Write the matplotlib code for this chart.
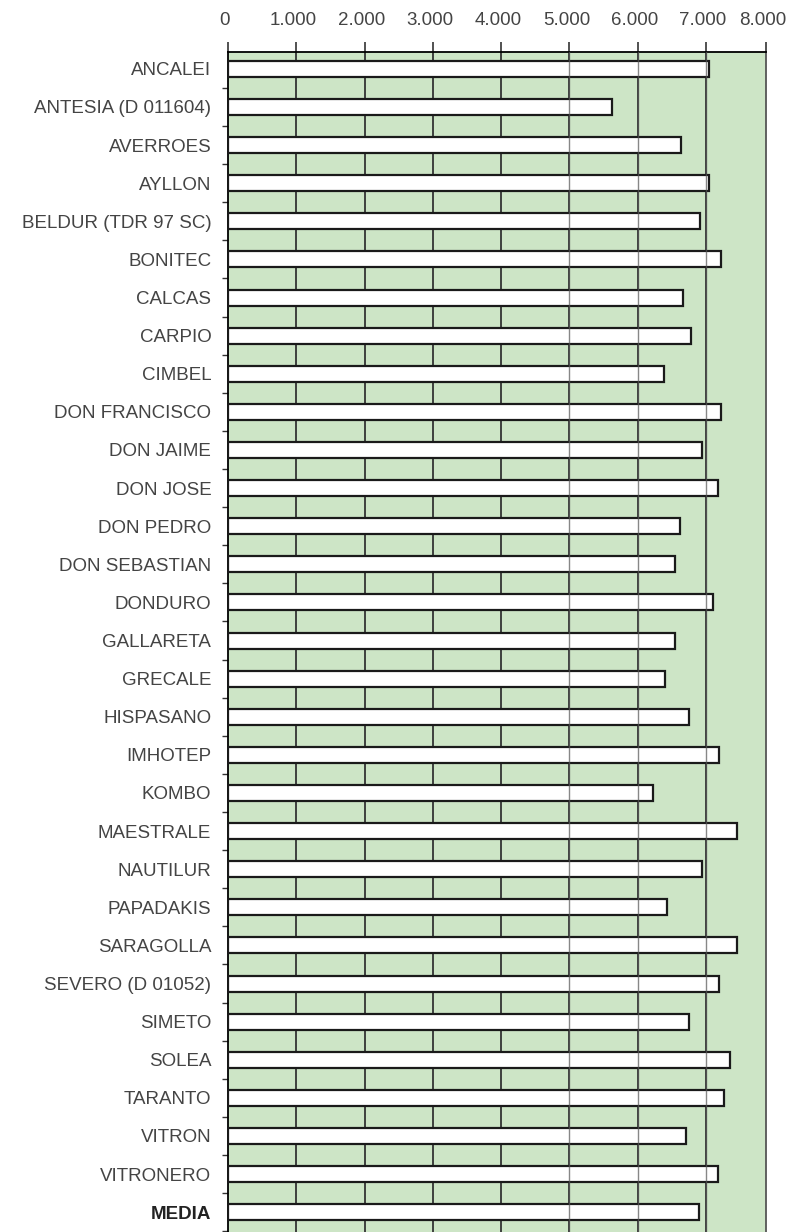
import matplotlib
matplotlib.use('Agg')
import matplotlib.pyplot as plt
from matplotlib.transforms import ScaledTranslation

varieties = ['ANCALEI', 'ANTESIA (D 011604)', 'AVERROES', 'AYLLON', 'BELDUR (TDR 97 SC)',
             'BONITEC', 'CALCAS', 'CARPIO', 'CIMBEL', 'DON FRANCISCO', 'DON JAIME',
             'DON JOSE', 'DON PEDRO', 'DON SEBASTIAN', 'DONDURO', 'GALLARETA', 'GRECALE',
             'HISPASANO', 'IMHOTEP', 'KOMBO', 'MAESTRALE', 'NAUTILUR', 'PAPADAKIS',
             'SARAGOLLA', 'SEVERO (D 01052)', 'SIMETO', 'SOLEA', 'TARANTO', 'VITRON',
             'VITRONERO', 'MEDIA']
yields = [7040, 5630, 6630, 7040, 6910, 7220, 6670, 6780, 6380, 7220, 6940,
          7180, 6620, 6550, 7100, 6550, 6400, 6750, 7190, 6230, 7450, 6940, 6430,
          7460, 7190, 6750, 7350, 7270, 6710, 7180, 6900]
xticks = [0, 1000, 2000, 3000, 4000, 5000, 6000, 7000]
xticklabels = ['0', '1.000', '2.000', '3.000', '4.000', '5.000', '6.000', '7.000', '8.000']
# the printed scale squeezes the last interval: the frame ends at ~7.880
x_end = 7880

plt.rcParams['font.family'] = ['Liberation Sans', 'DejaVu Sans']

fig = plt.figure(figsize=(7.95, 12.32), dpi=100)
ax = fig.add_axes([228 / 795, 0, 538 / 795, 1 - 51.7 / 1232])
ax.set_facecolor('#cde5c6')

n = len(varieties)
ypos = list(range(n))
ax.barh(ypos, yields, height=0.42, color='white', edgecolor='#1a1a1a',
        linewidth=1.6, zorder=3)

# grid lines: the low ones sit behind the bars, the high ones cross them
for v in xticks[1:]:
    ax.axvline(v, color='#333333', linewidth=1.3, zorder=2)
    if v >= 5000:
        ax.axvline(v, color='#555555', linewidth=1.0, alpha=0.7, zorder=4)

ax.set_xlim(0, x_end)
ax.set_ylim(n - 1 + 0.52, -0.45)
ax.xaxis.tick_top()
ax.set_xticks(xticks + [x_end])
ax.set_xticklabels(xticklabels, fontsize=13.5, color='#444444')
ax.tick_params(axis='x', direction='out', length=7, width=1.2, pad=9, color='#333333')
shift = ScaledTranslation(-3 / 100, 0, fig.dpi_scale_trans)
for lab in ax.get_xticklabels():
    lab.set_transform(lab.get_transform() + shift)

ax.set_yticks(ypos)
ax.set_yticklabels(varieties, fontsize=13.5, color='#444444')
ax.get_yticklabels()[-1].set_fontweight('bold')
ax.get_yticklabels()[-1].set_color('#222222')
ax.tick_params(axis='y', length=0, pad=12)
ax.set_yticks([i + 0.5 for i in ypos], minor=True)
ax.tick_params(axis='y', which='minor', direction='out', length=4, width=1, color='#333333')

ax.spines['bottom'].set_visible(False)
ax.spines['top'].set_linewidth(1.3)
ax.spines['left'].set_linewidth(1.3)
ax.spines['right'].set_linewidth(1.3)
ax.spines['right'].set_color('#555555')

fig.savefig('out.png', dpi=100)
